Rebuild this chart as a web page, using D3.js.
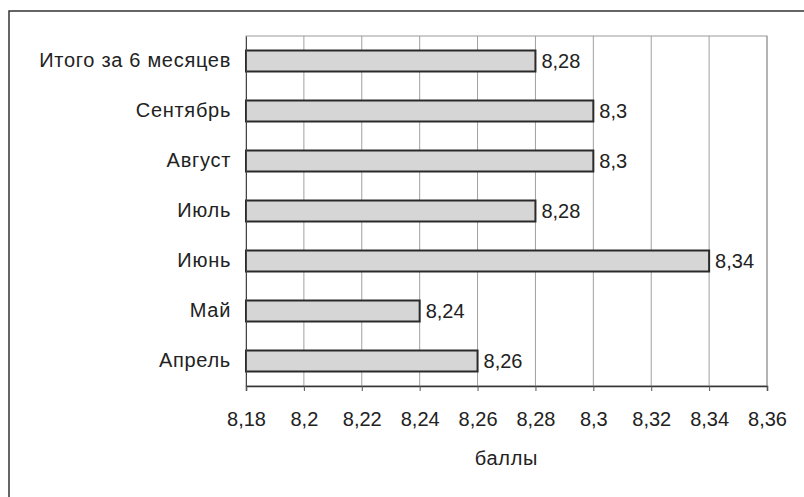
<!DOCTYPE html>
<html>
<head>
<meta charset="utf-8">
<script src="https://cdn.jsdelivr.net/npm/d3@7"></script>
<style>
	body { margin: 0; background: #fff; }
	text { font-family: "Liberation Sans", Arial, sans-serif; fill: #222; }
</style>
</head>
<body>
<div id="chart"></div>
<script>
	// categories top to bottom
	var categories = ["Итого за 6 месяцев", "Сентябрь", "Август", "Июль", "Июнь", "Май", "Апрель"];
	var values = [8.28, 8.3, 8.3, 8.28, 8.34, 8.24, 8.26];
	var tickValues = [8.18, 8.2, 8.22, 8.24, 8.26, 8.28, 8.3, 8.32, 8.34, 8.36];
	var axisTitle = "баллы";

	var width = 804, height = 497;
	var margin = { top: 36, right: 37, bottom: 111, left: 246 };
	var fontSize = 20;

	var fmt = function(v) {
		return String(+v.toFixed(2)).replace(".", ",");
	};

	var svg = d3.select("#chart").append("svg")
		.attr("width", width)
		.attr("height", height);

	// outer frame
	svg.append("path")
		.attr("d", "M9,500 L9,11 L810,11")
		.attr("fill", "none")
		.attr("stroke", "#333")
		.attr("stroke-width", 1.5);

	var x = d3.scaleLinear()
		.domain([8.18, 8.36])
		.range([margin.left, width - margin.right]);

	var y = d3.scaleBand()
		.domain(categories)
		.range([margin.top, height - margin.bottom])
		.paddingInner(0.58)
		.paddingOuter(0.29);

	var plotTop = margin.top, plotBottom = height - margin.bottom;

	// gridlines
	svg.append("g")
		.selectAll("line")
		.data(tickValues.slice(1))
		.enter().append("line")
			.attr("x1", function(d) { return x(d); })
			.attr("x2", function(d) { return x(d); })
			.attr("y1", plotTop)
			.attr("y2", plotBottom)
			.attr("stroke", "#a0a0a0")
			.attr("stroke-width", 1);

	// plot area border
	svg.append("rect")
		.attr("x", x(8.18))
		.attr("y", plotTop)
		.attr("width", x(8.36) - x(8.18))
		.attr("height", plotBottom - plotTop)
		.attr("fill", "none")
		.attr("stroke", "#999")
		.attr("stroke-width", 1);

	// bars
	var bars = svg.append("g")
		.selectAll("g")
		.data(categories)
		.enter().append("g");

	bars.append("rect")
		.attr("x", x(8.18))
		.attr("y", function(d) { return y(d); })
		.attr("width", function(d, i) { return x(values[i]) - x(8.18); })
		.attr("height", y.bandwidth())
		.attr("fill", "#d6d6d6")
		.attr("stroke", "#2a2a2a")
		.attr("stroke-width", 2);

	bars.append("text")
		.attr("x", function(d, i) { return x(values[i]) + 6; })
		.attr("y", function(d) { return y(d) + y.bandwidth() / 2; })
		.attr("dy", "0.36em")
		.attr("font-size", fontSize)
		.text(function(d, i) { return fmt(values[i]); });

	// category axis
	var yAxis = svg.append("g")
		.attr("transform", "translate(" + x(8.18) + ",0)")
		.call(d3.axisLeft(y).tickSize(0).tickPadding(15));
	yAxis.select(".domain").attr("stroke", "#444");
	yAxis.selectAll("text")
		.attr("font-size", fontSize)
		.attr("letter-spacing", "0.7px")
		.style("font-family", "\"Liberation Sans\", Arial, sans-serif")
		.attr("fill", "#222");

	// value axis
	var xAxis = svg.append("g")
		.attr("transform", "translate(0," + plotBottom + ")")
		.call(d3.axisBottom(x).tickValues(tickValues).tickFormat(fmt).tickSize(5).tickPadding(21));
	xAxis.select(".domain").attr("stroke", "#333").attr("stroke-width", 1.5);
	xAxis.selectAll(".tick line").attr("stroke", "#555");
	xAxis.selectAll("text")
		.attr("font-size", fontSize)
		.style("font-family", "\"Liberation Sans\", Arial, sans-serif")
		.attr("fill", "#222");

	svg.append("text")
		.attr("x", x(8.27))
		.attr("y", 465)
		.attr("text-anchor", "middle")
		.attr("font-size", fontSize)
		.attr("letter-spacing", "0.7px")
		.text(axisTitle);
</script>
</body>
</html>
